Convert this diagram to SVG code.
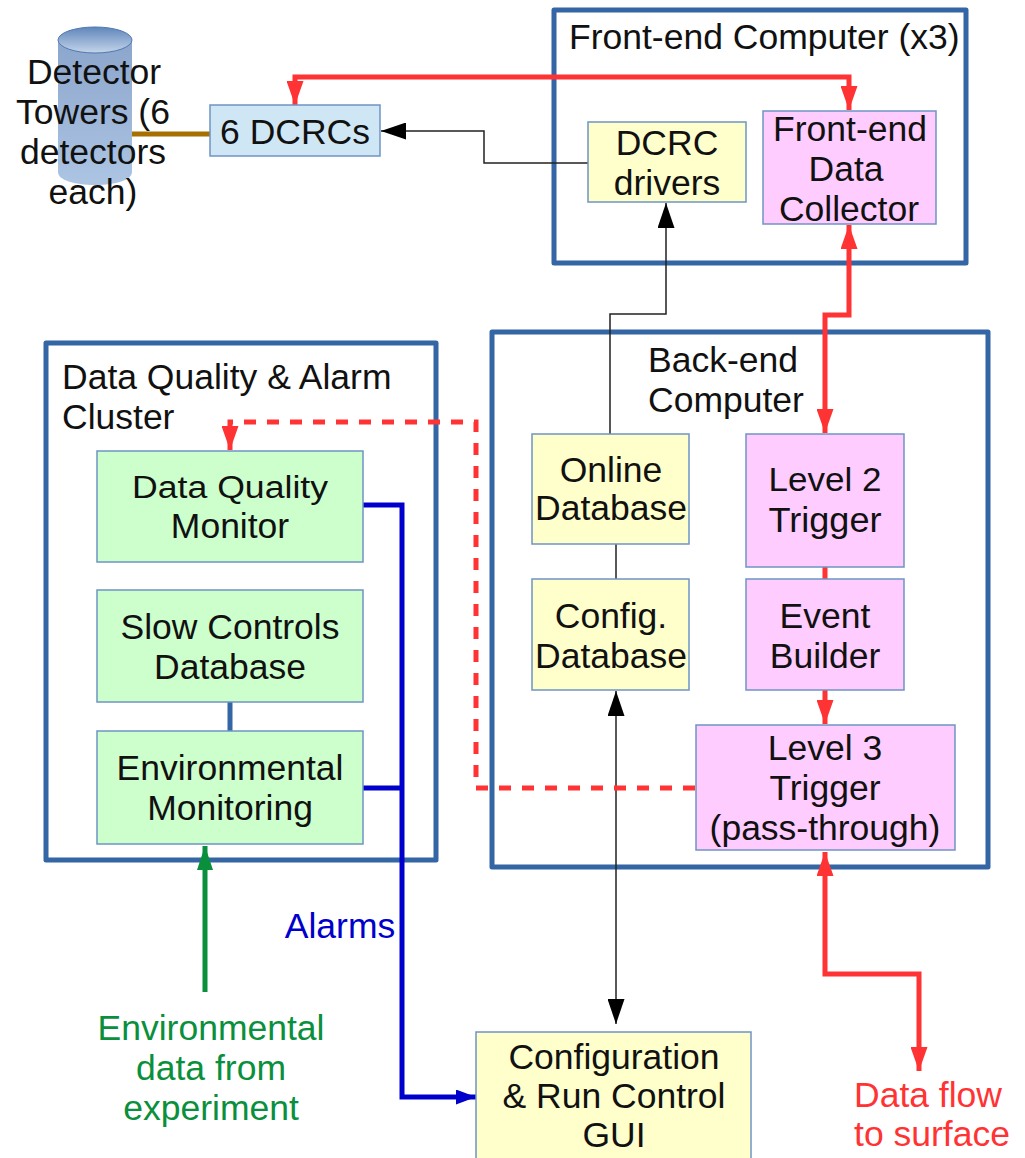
<svg xmlns="http://www.w3.org/2000/svg" width="1025" height="1158" viewBox="0 0 1025 1158">
<style>
text{font-family:"Liberation Sans",Arial,sans-serif;font-size:35.5px;fill:#111;text-anchor:middle}
.l{text-anchor:start}
.c{fill:none;stroke:#3465a4;stroke-width:5;stroke-linejoin:round}
.n{stroke:#6f94c4;stroke-width:1.5}
.y{fill:#ffffcc}.p{fill:#ffccff}.g{fill:#ccffcc}.b{fill:#cfe7f5}
.w{fill:none;stroke:#ff3333;stroke-width:5}
.k{fill:none;stroke:#222;stroke-width:1.5}
.u{fill:none;stroke:#0000cc;stroke-width:5}
</style>
<defs>
<linearGradient id="cy" x1="0" y1="0" x2="0" y2="1"><stop offset="0" stop-color="#8ba5cc"/><stop offset="1" stop-color="#adc5e3"/></linearGradient>
<linearGradient id="cyt" x1="0" y1="0" x2="0" y2="1"><stop offset="0" stop-color="#5f86ba"/><stop offset="1" stop-color="#c5d5ea"/></linearGradient>
<marker id="ar" markerUnits="userSpaceOnUse" markerWidth="24" markerHeight="17" refX="24" refY="8.5" orient="auto-start-reverse" viewBox="0 0 24 17"><path d="M0 0L24 8.5L0 17Z" fill="#ff3333"/></marker>
<marker id="ak" markerUnits="userSpaceOnUse" markerWidth="25" markerHeight="17" refX="25" refY="8.5" orient="auto-start-reverse" viewBox="0 0 25 17"><path d="M0 0L25 8.5L0 17Z" fill="#000"/></marker>
<marker id="ab" markerUnits="userSpaceOnUse" markerWidth="20" markerHeight="15" refX="20" refY="7.5" orient="auto" viewBox="0 0 20 15"><path d="M0 0L20 7.5L0 15Z" fill="#0000cc"/></marker>
<marker id="ag" markerUnits="userSpaceOnUse" markerWidth="24" markerHeight="16" refX="24" refY="8" orient="auto" viewBox="0 0 24 16"><path d="M0 0L24 8L0 16Z" fill="#0a8f3c"/></marker>
</defs>
<g id="front-end-computer"><rect class="c" x="554" y="10" width="412" height="253"/><text class="l" x="569" y="49">Front-end Computer (x3)</text></g>
<g id="back-end-computer"><rect class="c" x="492" y="332" width="496" height="535"/><text x="726" y="372"><tspan x="723">Back-end</tspan><tspan x="726" dy="40">Computer</tspan></text></g>
<g id="dq-cluster"><rect class="c" x="46" y="343" width="390" height="517"/><text class="l" x="62" y="389">Data Quality &amp; Alarm<tspan x="62" dy="40">Cluster</tspan></text></g>
<g id="connectors">
<path d="M132 134H210" fill="none" stroke="#a66f00" stroke-width="5"/>
<path class="k" d="M588 163H484V131H381" marker-end="url(#ak)"/>
<path class="k" d="M610 434V314H666V203" marker-end="url(#ak)"/>
<path class="k" d="M616 544V579"/>
<path class="k" d="M616 691V1024" marker-start="url(#ak)" marker-end="url(#ak)"/>
<path class="w" d="M295 105V77H849V110" marker-start="url(#ar)" marker-end="url(#ar)"/>
<path class="w" d="M849 225V315H825V433" marker-start="url(#ar)" marker-end="url(#ar)"/>
<path class="w" d="M825 567V579"/>
<path class="w" d="M825 690V724" marker-end="url(#ar)"/>
<path class="w" d="M825 852V974H919V1071" marker-start="url(#ar)" marker-end="url(#ar)"/>
<path class="w" stroke-dasharray="12 11" d="M695 788H476V422H230V450" marker-end="url(#ar)"/>
<path class="u" d="M363 505H402V1097H476" marker-end="url(#ab)"/>
<path class="u" d="M363 788H402"/>
<path d="M230 702V731" fill="none" stroke="#3465a4" stroke-width="5"/>
<path d="M205 992V846" fill="none" stroke="#0a8f3c" stroke-width="5" marker-end="url(#ag)"/>
</g>
<g id="detector-towers"><path d="M58 41V172C58 180 74 185 95 185S132 180 132 172V41Z" fill="url(#cy)"/><ellipse cx="95" cy="40" rx="37" ry="13" fill="url(#cyt)" stroke="#4f79b0" stroke-width="1"/><text x="94" y="84">Detector<tspan x="93" dy="40">Towers (6</tspan><tspan x="93" dy="40">detectors</tspan><tspan x="93" dy="40">each)</tspan></text></g>
<g id="dcrcs"><rect class="n b" x="210" y="105" width="170" height="51"/><text x="295" y="144">6 DCRCs</text></g>
<g id="dcrc-drivers"><rect class="n y" x="588" y="122" width="158" height="80"/><text x="667" y="155">DCRC<tspan x="667" dy="40">drivers</tspan></text></g>
<g id="fe-data-collector"><rect class="n p" x="763" y="111" width="173" height="113"/><text x="850" y="141">Front-end<tspan x="846" dy="40">Data</tspan><tspan x="849" dy="40">Collector</tspan></text></g>
<g id="online-db"><rect class="n y" x="532" y="434" width="157" height="110"/><text x="611" y="482">Online<tspan x="611" dy="38">Database</tspan></text></g>
<g id="config-db"><rect class="n y" x="532" y="579" width="157" height="111"/><text x="611" y="628">Config.<tspan x="611" dy="40">Database</tspan></text></g>
<g id="level-2"><rect class="n p" x="746" y="434" width="158" height="133"/><text x="825" y="491" style="font-size:33px" textLength="113" lengthAdjust="spacingAndGlyphs">Level 2</text><text x="825" y="532" style="font-size:35px" textLength="113" lengthAdjust="spacingAndGlyphs">Trigger</text></g>
<g id="event-builder"><rect class="n p" x="746" y="579" width="158" height="111"/><text x="825" y="628">Event<tspan x="825" dy="40">Builder</tspan></text></g>
<g id="level-3"><rect class="n p" x="696" y="725" width="259" height="125"/><text x="825" y="760">Level 3<tspan x="825" dy="40">Trigger</tspan><tspan x="825" dy="40">(pass-through)</tspan></text></g>
<g id="gui"><rect class="n y" x="476" y="1032" width="275" height="130"/><text x="614" y="1069">Configuration<tspan x="614" dy="39">&amp; Run Control</tspan><tspan x="614" dy="39">GUI</tspan></text></g>
<g id="dq-monitor"><rect class="n g" x="97" y="451" width="266" height="111"/><text x="230" y="498" style="font-size:31px" textLength="196" lengthAdjust="spacingAndGlyphs">Data Quality</text><text x="230" y="538">Monitor</text></g>
<g id="slow-controls"><rect class="n g" x="97" y="590" width="266" height="112"/><text x="230" y="639">Slow Controls<tspan x="230" dy="40">Database</tspan></text></g>
<g id="env-monitoring"><rect class="n g" x="97" y="731" width="266" height="113"/><text x="230" y="780">Environmental<tspan x="230" dy="40">Monitoring</tspan></text></g>
<text x="340" y="938" style="fill:#0000cc">Alarms</text>
<text x="211" y="1040" style="fill:#0a8f3c">Environmental<tspan x="211" dy="40">data from</tspan><tspan x="211" dy="40">experiment</tspan></text>
<text x="928" y="1107" style="fill:#ff3333">Data flow<tspan x="932" dy="39">to surface</tspan></text>
</svg>
